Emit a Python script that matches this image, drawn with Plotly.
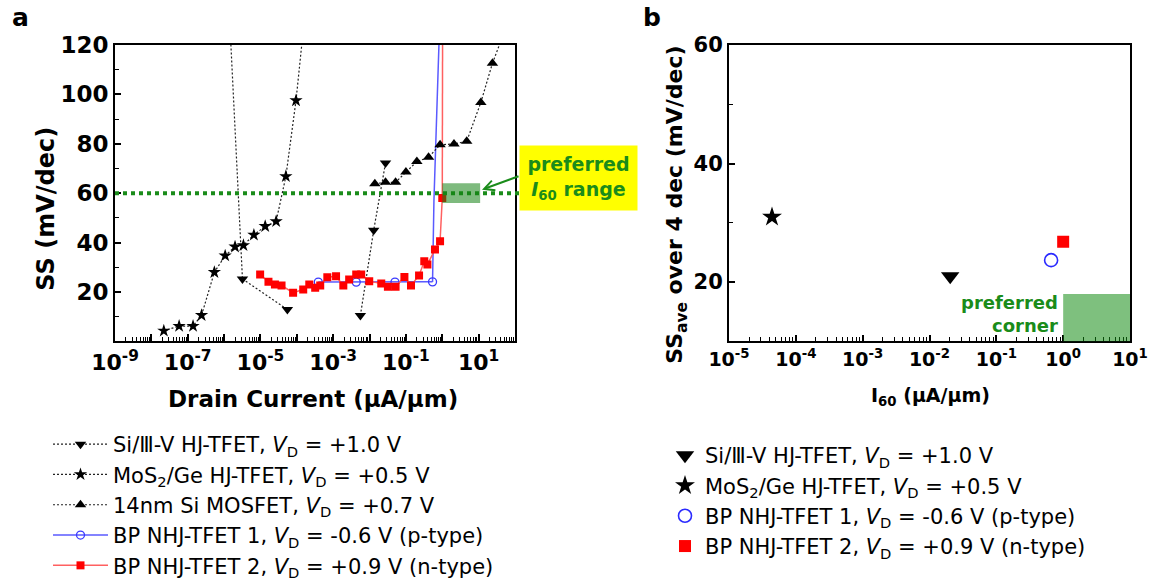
import plotly.graph_objects as go

# ---------------- data: panel a (SS vs drain current) ----------------
si3v_I = [3.2e-6, 5.5e-5, None, 5.6e-3, 1.3e-2, 2.75e-2]
si3v_SS = [25.3, 12.9, None, 10.5, 45.0, 72.2]
si3v_ext_I = [1.48e-6, 2.45e-6, 3.2e-6]
si3v_ext_SS = [125, 60, 25.3]

mos2_I = [2.2e-8, 5.8e-8, 1.4e-7, 2.4e-7, 5.4e-7, 1.07e-6, 2.0e-6, 3.4e-6,
          6.6e-6, 1.35e-5, 2.7e-5, 5.0e-5, 9.5e-5]
mos2_SS = [4.3, 6.2, 6.2, 10.6, 28.0, 34.7, 38.3, 38.9, 43.1, 46.6, 48.6, 66.8, 97.5]
mos2_ext_I = [9.5e-5, 1.48e-4]
mos2_ext_SS = [97.5, 125]

si14_I = [1.4e-2, 2.75e-2, 5.2e-2, 1.0e-1, 2.0e-1, 4.2e-1, 8.7e-1, 2.1, 4.7, 11.5, 24]
si14_SS = [63.8, 64.4, 64.4, 68.6, 72.8, 74.5, 79.6, 79.9, 81.0, 96.7, 112.6]
si14_ext_I = [24, 50]
si14_ext_SS = [112.6, 125]

bp1_I = [3.9e-4, 4.3e-3, 5.0e-2, 0.54]
bp1_SS = [24.0, 24.0, 24.0, 24.1]
bp1_ext_I = [0.54, 0.59, 0.81, 0.82]
bp1_ext_SS = [24.1, 57, 120, 125]

bp2_I = [9.8e-6, 1.66e-5, 2.5e-5, 3.8e-5, 7.9e-5, 1.5e-4, 2.2e-4, 3.2e-4, 4.4e-4,
         6.9e-4, 1.2e-3, 1.9e-3, 2.75e-3, 4.3e-3, 5.9e-3, 9.8e-3, 2.1e-2, 3.2e-2,
         5.2e-2, 9.1e-2, 0.138, 0.23, 0.32, 0.39, 0.63, 0.87, 1.0]
bp2_SS = [27.1, 24.1, 23.0, 22.6, 19.7, 21.0, 23.0, 21.7, 22.6, 26.0, 26.4, 22.6,
          25.1, 27.1, 27.1, 24.4, 23.4, 22.1, 22.1, 26.1, 22.6, 26.7, 32.4, 31.1,
          37.2, 40.5, 58.0]
bp2_ext_I = [1.0, 1.02]
bp2_ext_SS = [58.0, 125]

# ---------------- data: panel b (SS_ave vs I60) ----------------
b_names = ["si3v", "mos2", "bp1", "bp2"]
b_I60 = [0.0204, 4.4e-5, 0.66, 1.0]
b_SSave = [21.0, 31.0, 23.7, 26.8]

labels = {
    "si3v": "Si/Ⅲ-V HJ-TFET, <i>V</i><sub>D</sub> = +1.0 V",
    "mos2": "MoS<sub>2</sub>/Ge HJ-TFET, <i>V</i><sub>D</sub> = +0.5 V",
    "si14": "14nm Si MOSFET, <i>V</i><sub>D</sub> = +0.7 V",
    "bp1": "BP NHJ-TFET 1, <i>V</i><sub>D</sub> = -0.6 V (p-type)",
    "bp2": "BP NHJ-TFET 2, <i>V</i><sub>D</sub> = +0.9 V (n-type)",
}

xa_tickvals = [1e-9, 1e-8, 1e-7, 1e-6, 1e-5, 1e-4, 1e-3, 1e-2, 1e-1, 1e0, 1e1, 1e2]
xa_ticktext = ["10<sup>-9</sup>", "", "10<sup>-7</sup>", "", "10<sup>-5</sup>", "",
               "10<sup>-3</sup>", "", "10<sup>-1</sup>", "", "10<sup>1</sup>", ""]
ya_tickvals = [20, 40, 60, 80, 100, 120]
xb_tickvals = [1e-5, 1e-4, 1e-3, 1e-2, 1e-1, 1e0, 1e1]
xb_ticktext = ["10<sup>-5</sup>", "10<sup>-4</sup>", "10<sup>-3</sup>", "10<sup>-2</sup>",
               "10<sup>-1</sup>", "10<sup>0</sup>", "10<sup>1</sup>"]
yb_tickvals = [20, 40, 60]

# ---------------- layout helpers ----------------
W, H = 1153, 586
def px(x):
    return x / W
def py(y):
    return 1 - y / H

FONT = "DejaVu Sans, Arial, sans-serif"
GREEN = "#1a8c1a"
BLACK_LINE = dict(color="#222222", width=1.2, dash="2px,2px")
BLUE_LINE = dict(color="#5a5aff", width=1.5)
RED_LINE = dict(color="#ff6060", width=1.5)

fig = go.Figure()

# extensions of curves beyond the marked points (no legend)
for xs, ys, ln in [(si3v_ext_I, si3v_ext_SS, BLACK_LINE), (mos2_ext_I, mos2_ext_SS, BLACK_LINE),
                   (si14_ext_I, si14_ext_SS, BLACK_LINE), (bp1_ext_I, bp1_ext_SS, BLUE_LINE),
                   (bp2_ext_I, bp2_ext_SS, RED_LINE)]:
    fig.add_trace(go.Scatter(x=xs, y=ys, mode="lines", line=ln, showlegend=False,
                             hoverinfo="skip", xaxis="x", yaxis="y"))

fig.add_trace(go.Scatter(x=si3v_I, y=si3v_SS, mode="lines+markers", name=labels["si3v"],
                         line=BLACK_LINE, marker=dict(symbol="triangle-down", size=10, color="black"),
                         legend="legend", xaxis="x", yaxis="y"))
fig.add_trace(go.Scatter(x=mos2_I, y=mos2_SS, mode="lines+markers", name=labels["mos2"],
                         line=BLACK_LINE, marker=dict(symbol="star", size=10, color="black"),
                         legend="legend", xaxis="x", yaxis="y"))
fig.add_trace(go.Scatter(x=si14_I, y=si14_SS, mode="lines+markers", name=labels["si14"],
                         line=BLACK_LINE, marker=dict(symbol="triangle-up", size=10, color="black"),
                         legend="legend", xaxis="x", yaxis="y"))
fig.add_trace(go.Scatter(x=bp1_I, y=bp1_SS, mode="lines+markers", name=labels["bp1"],
                         line=BLUE_LINE,
                         marker=dict(symbol="circle-open", size=8, color="#3a3aff", line=dict(width=1.3)),
                         legend="legend", xaxis="x", yaxis="y"))
fig.add_trace(go.Scatter(x=bp2_I, y=bp2_SS, mode="lines+markers", name=labels["bp2"],
                         line=RED_LINE, marker=dict(symbol="square", size=8, color="#ff0000"),
                         legend="legend", xaxis="x", yaxis="y"))

# panel b
b_style = {
    "si3v": dict(symbol="triangle-down", size=16, color="black"),
    "mos2": dict(symbol="star", size=15, color="black"),
    "bp1": dict(symbol="circle-open", size=13, color="#2a2aff", line=dict(width=1.6)),
    "bp2": dict(symbol="square", size=12, color="#ff0000"),
}
for i, n in enumerate(b_names):
    fig.add_trace(go.Scatter(x=[b_I60[i]], y=[b_SSave[i]], mode="markers", name=labels[n],
                             marker=b_style[n], legend="legend2",
                             xaxis="x2", yaxis="y2"))

axis_common = dict(showline=True, linewidth=2, linecolor="black", mirror=True,
                   showgrid=False, zeroline=False, ticks="inside", tickcolor="black",
                   tickwidth=1.5, automargin=False)

fig.update_layout(
    width=W, height=H, margin=dict(l=0, r=0, t=0, b=0),
    paper_bgcolor="white", plot_bgcolor="white",
    font=dict(family=FONT, color="black"),
    xaxis=dict(**axis_common, domain=[px(115), px(515)], type="log", range=[-9, 2], anchor="y",
               tickmode="array", tickvals=xa_tickvals, ticktext=xa_ticktext, ticklen=7,
               tickfont=dict(size=22, weight="bold"),
               minor=dict(ticks="inside", ticklen=4, tickwidth=1, tickcolor="black",
                          dtick="D1", showgrid=False)),
    yaxis=dict(**axis_common, domain=[py(342), py(45)], range=[0, 120], anchor="x",
               tickmode="array", tickvals=ya_tickvals, ticklen=6,
               tickfont=dict(size=23, weight="bold"),
               minor=dict(ticks="inside", ticklen=4, tickwidth=1, tickcolor="black",
                          tick0=0, dtick=10, showgrid=False)),
    xaxis2=dict(**axis_common, domain=[px(729), px(1130)], type="log", range=[-5, 1], anchor="y2",
                tickmode="array", tickvals=xb_tickvals, ticktext=xb_ticktext, ticklen=6,
                tickfont=dict(size=19, weight="bold"),
                minor=dict(ticks="inside", ticklen=4, tickwidth=1, tickcolor="black",
                           dtick="D1", showgrid=False)),
    yaxis2=dict(**axis_common, domain=[py(342), py(45)], range=[10, 60], anchor="x2",
                tickmode="array", tickvals=yb_tickvals, ticklen=6,
                tickfont=dict(size=21, weight="bold"),
                minor=dict(ticks="inside", ticklen=4, tickwidth=1, tickcolor="black",
                           tick0=0, dtick=10, showgrid=False)),
    legend=dict(x=px(48), y=py(425), xanchor="left", yanchor="top", itemwidth=55,
                font=dict(size=21, family=FONT), bgcolor="rgba(0,0,0,0)"),
    legend2=dict(x=px(665), y=py(435), xanchor="left", yanchor="top", itemwidth=30,
                 font=dict(size=21, family=FONT), bgcolor="rgba(0,0,0,0)"),
    showlegend=True,
)

# shapes
fig.add_shape(type="line", xref="x domain", yref="y", x0=0, x1=1.02, y0=60, y1=60,
              line=dict(color=GREEN, width=4, dash="4px,4px"), layer="above")
fig.add_shape(type="rect", xref="x", yref="y", x0=1.0, x1=11.0, y0=56, y1=64,
              fillcolor="rgba(20,130,20,0.55)", line=dict(width=0), layer="above")
fig.add_shape(type="rect", xref="x2", yref="y2", x0=1.0, x1=10.0, y0=10, y1=18,
              fillcolor="rgba(20,140,20,0.55)", line=dict(width=0), layer="above")

# annotations
ann = [
    dict(text="<b>a</b>", x=px(20), y=py(18), font=dict(size=25)),
    dict(text="<b>b</b>", x=px(652), y=py(18), font=dict(size=25)),
    dict(text="<b>SS (mV/dec)</b>", x=px(46), y=py(209), textangle=-90, font=dict(size=24)),
    dict(text="<b>Drain Current (μA/μm)</b>", x=px(313), y=py(400), font=dict(size=23)),
    dict(text="<b>SS<sub>ave</sub> over 4 dec (mV/dec)</b>", x=px(677), y=py(205), textangle=-90,
         font=dict(size=22)),
    dict(text="<b>I<sub>60</sub> (μA/μm)</b>", x=px(930), y=py(397), font=dict(size=19)),
    dict(text="<b>preferred<br>corner</b>", x=px(1060), y=py(315), xanchor="right", align="right",
         font=dict(size=18, color=GREEN)),
    dict(text="<b>preferred<br><i>I</i><sub>60</sub> range</b>", x=px(578.5), y=py(178),
         bgcolor="#ffff00", width=113, height=60, borderpad=2, font=dict(size=19, color=GREEN)),
]
for a in ann:
    a.setdefault("xanchor", "center")
    a.setdefault("yanchor", "middle")
    fig.add_annotation(xref="paper", yref="paper", showarrow=False, **a)

fig.add_annotation(xref="paper", yref="paper", x=px(482), y=py(190), ax=38, ay=-14,
                   text="", showarrow=True, arrowhead=5, arrowsize=1, arrowwidth=2,
                   arrowcolor=GREEN)

fig.write_html("out.html", config={"displayModeBar": False},
               post_script="document.body.style.margin='0';document.body.style.overflow='hidden';")
